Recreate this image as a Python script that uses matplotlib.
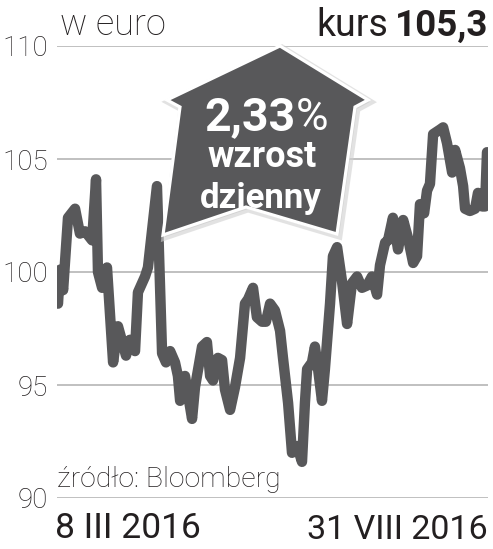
import matplotlib.pyplot as plt
from matplotlib.patches import Polygon

# dni od 8 III 2016 i kurs (euro)
days = [0, 0.8, 2.1, 4.1, 7.0, 9.0, 11.1, 14.0, 15.6, 16.4, 18.1, 20.1, 22.6, 24.6,
        27.9, 29.5, 31.6, 32.8, 35.7, 36.9, 40.6, 42.7, 44.3, 46.0, 48.0, 49.2, 50.1,
        52.1, 55.0, 56.2, 59.1, 61.1, 62.4, 63.6, 65.6, 67.3, 68.5, 70.6, 72.6, 74.7,
        76.7, 78.0, 80.0, 81.6, 83.7, 85.3, 87.0, 89.0, 91.1, 92.3, 94.4, 96.0, 98.1,
        100.1, 101.3, 102.2, 104.2, 105.4, 106.7, 108.3, 109.5, 111.6, 112.8, 114.5,
        116.5, 118.6, 120.6, 122.7, 124.7, 126.8, 128.8, 130.9, 132.1, 134.2, 135.4,
        137.4, 139.5, 141.6, 143.6, 145.7, 147.3, 148.5, 150.2, 151.4, 152.6, 153.9,
        156.7, 158.0, 159.6, 161.7, 162.9, 164.9, 166.2, 167.0, 169.0, 171.1, 172.3,
        174.0, 175.2, 176.0]
kurs = [98.6, 100.1, 99.2, 102.4, 102.8, 101.7, 101.8, 101.4, 104.1, 100.0, 99.3, 100.2,
        96.0, 97.6, 96.3, 97.0, 96.5, 99.1, 99.8, 100.2, 103.8, 96.4, 96.0, 96.5, 96.0,
        95.4, 94.3, 95.4, 93.5, 94.9, 96.7, 96.9, 95.4, 95.2, 96.2, 96.1, 94.8, 93.9,
        94.9, 96.2, 98.6, 98.8, 99.3, 98.0, 97.8, 97.8, 98.6, 98.3, 97.4, 96.2, 94.2,
        92.0, 92.3, 91.6, 94.2, 95.7, 96.0, 96.7, 95.7, 94.3, 95.7, 98.6, 100.7, 101.1,
        99.6, 97.7, 99.5, 99.8, 99.3, 99.4, 99.8, 99.0, 100.3, 101.3, 101.4, 102.4,
        101.0, 102.3, 101.5, 100.4, 100.7, 103.0, 102.6, 103.6, 103.9, 106.1, 106.3,
        106.4, 105.7, 104.4, 105.4, 104.6, 103.8, 102.8, 102.7, 102.8, 103.5, 102.9,
        102.9, 105.3]
y_ticks = [90, 95, 100, 105, 110]
start_label = "8 III 2016"
end_label = "31 VIII 2016"
change_label = "2,33"
unit_label = "w euro"
last_value = "105,3"

W, H = 493, 549
FONT = "Roboto"
TXT = "#231f20"
GREY = "#58585a"


def px(x, y):
    return x / W, 1 - y / H


fig = plt.figure(figsize=(W / 100, H / 100), dpi=100)
ax = fig.add_axes([57 / W, 1 - 498 / H, (488 - 57) / W, (498 - 46) / H])

for v in y_ticks:
    ax.axhline(v, color="#b5b5b5", lw=1.2, zorder=1)
ax.plot(days, kurs, color=GREY, lw=7.5, solid_joinstyle="round",
        solid_capstyle="round", zorder=2)

ax.set_xlim(-0.41, 176.41)
ax.set_ylim(90, 110)
ax.set_xticks([])
ax.set_yticks(y_ticks)
ax.set_yticklabels([str(v) for v in y_ticks], fontsize=20, fontweight="light",
                   family=FONT, color=TXT)
ax.tick_params(axis="y", length=0, pad=6.5)
for s in ax.spines.values():
    s.set_visible(False)
ax.patch.set_alpha(0)

# strzalka
arrow = [(280, 46), (368, 100), (355, 107), (337, 234), (246, 207),
         (163, 235), (180, 107), (167, 100)]
shadow = Polygon([px(x + 2, y + 2) for x, y in arrow], closed=True,
                 transform=fig.transFigure, facecolor="#bdbdbd", edgecolor="#d0d0d0",
                 lw=5, alpha=0.6, zorder=5)
body = Polygon([px(x, y) for x, y in arrow], closed=True, transform=fig.transFigure,
               facecolor="#58585a", edgecolor="white", lw=2.3, joinstyle="miter",
               zorder=6)
fig.patches.extend([shadow, body])

fig.text(*px(204, 130), change_label, fontsize=33.5, fontweight="bold", family=FONT,
         color="white", zorder=7)
fig.text(*px(296, 130), "%", fontsize=32, family=FONT, color="white", zorder=7)
fig.text(*px(262, 167), "wzrost", fontsize=26, fontweight="bold", family=FONT,
         color="white", ha="center", zorder=7)
fig.text(*px(261, 208), "dzienny", fontsize=25, fontweight="bold", family=FONT,
         color="white", ha="center", zorder=7)

# opisy
fig.text(*px(60, 35), unit_label, fontsize=26, fontweight="light", family=FONT, color=TXT)
fig.text(*px(488, 36), last_value, fontsize=26.5, fontweight="bold", family=FONT,
         color=TXT, ha="right")
fig.text(*px(388, 36), "kurs", fontsize=27, family=FONT, color=TXT, ha="right")
fig.text(*px(57, 487), "źródło: Bloomberg", fontsize=20.5, fontweight="light",
         family=FONT, color=TXT)
fig.text(*px(55, 538), start_label, fontsize=25.5, family=FONT, color=TXT)
fig.text(*px(488, 539), end_label, fontsize=24.5, family=FONT, color=TXT, ha="right")

plt.savefig("out.png", dpi=100)
